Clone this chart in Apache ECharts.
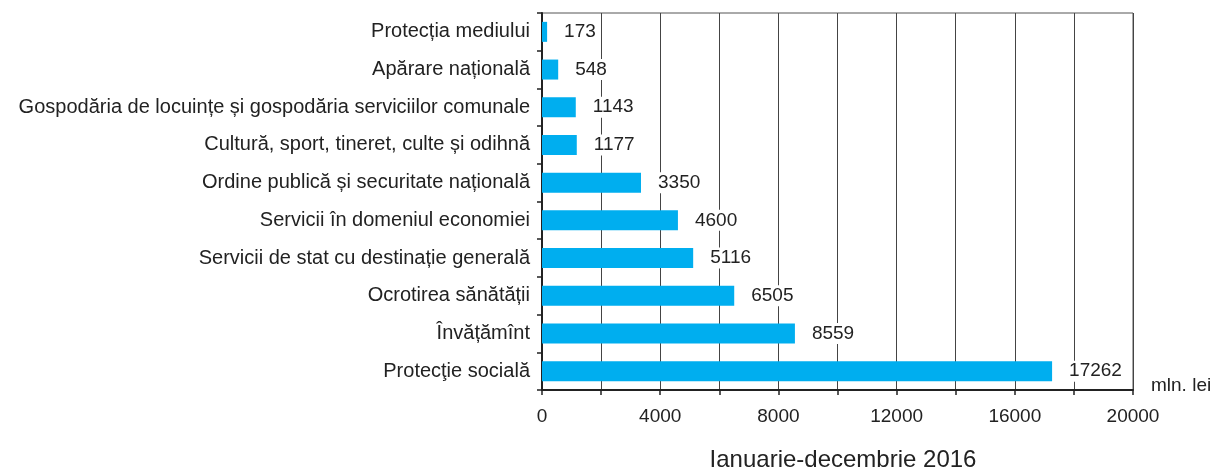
<!DOCTYPE html>
<html>
<head>
<meta charset="utf-8">
<script src="https://cdn.jsdelivr.net/npm/echarts@6/dist/echarts.min.js"></script>
<style>html,body{margin:0;padding:0;background:#fff;}#c{width:1215px;height:468px;}</style>
</head>
<body>
<div id="c"></div>
<script>
const categories = [
  "Protecţie socială",
  "Învățămînt",
  "Ocrotirea sănătății",
  "Servicii de stat cu destinație generală",
  "Servicii în domeniul economiei",
  "Ordine publică și securitate națională",
  "Cultură, sport, tineret, culte și odihnă",
  "Gospodăria de locuințe și gospodăria serviciilor comunale",
  "Apărare națională",
  "Protecția mediului"
];
const values = [17262, 8559, 6505, 5116, 4600, 3350, 1177, 1143, 548, 173];
const unitLabel = "mln. lei";
const titleText = "Ianuarie-decembrie 2016";

const font = "Liberation Sans, Arial, sans-serif";
const chart = echarts.init(document.getElementById('c'));
chart.setOption({
  animation: false,
  textStyle: { fontFamily: font },
  title: {
    text: titleText, left: 838, top: 443, textAlign: 'center',
    textStyle: { fontFamily: font, fontSize: 24, fontWeight: 'normal', color: '#222' }
  },
  graphic: [{
    type: 'text', left: 1151, top: 376,
    style: { text: unitLabel, font: '19px ' + font, fill: '#222' }
  }],
  grid: { left: 542, right: 82, top: 13, bottom: 78, show: true, borderColor: '#555', borderWidth: 1 },
  xAxis: {
    type: 'value', min: 0, max: 20000, interval: 2000,
    axisLine: { show: true, lineStyle: { color: '#222', width: 2 } },
    axisTick: { show: true, length: 5, lineStyle: { color: '#222', width: 1.5 } },
    splitLine: { show: true, lineStyle: { color: '#444', width: 1 } },
    axisLabel: {
      fontSize: 19, color: '#222', margin: 17, fontFamily: font,
      formatter: v => (v % 4000 === 0 ? String(v) : '')
    }
  },
  yAxis: {
    type: 'category', data: categories,
    axisLine: { show: true, lineStyle: { color: '#222', width: 2 } },
    axisTick: { show: true, length: 5, lineStyle: { color: '#222', width: 1.5 } },
    axisLabel: { fontSize: 20, color: '#222', margin: 12, fontFamily: font }
  },
  series: [{
    type: 'bar', data: values, barWidth: 20,
    itemStyle: { color: '#00AEEF' },
    label: {
      show: true, position: 'right', distance: 14,
      fontSize: 19, color: '#222', fontFamily: font,
      backgroundColor: '#fff', padding: [1, 3]
    }
  }]
});
</script>
</body>
</html>
